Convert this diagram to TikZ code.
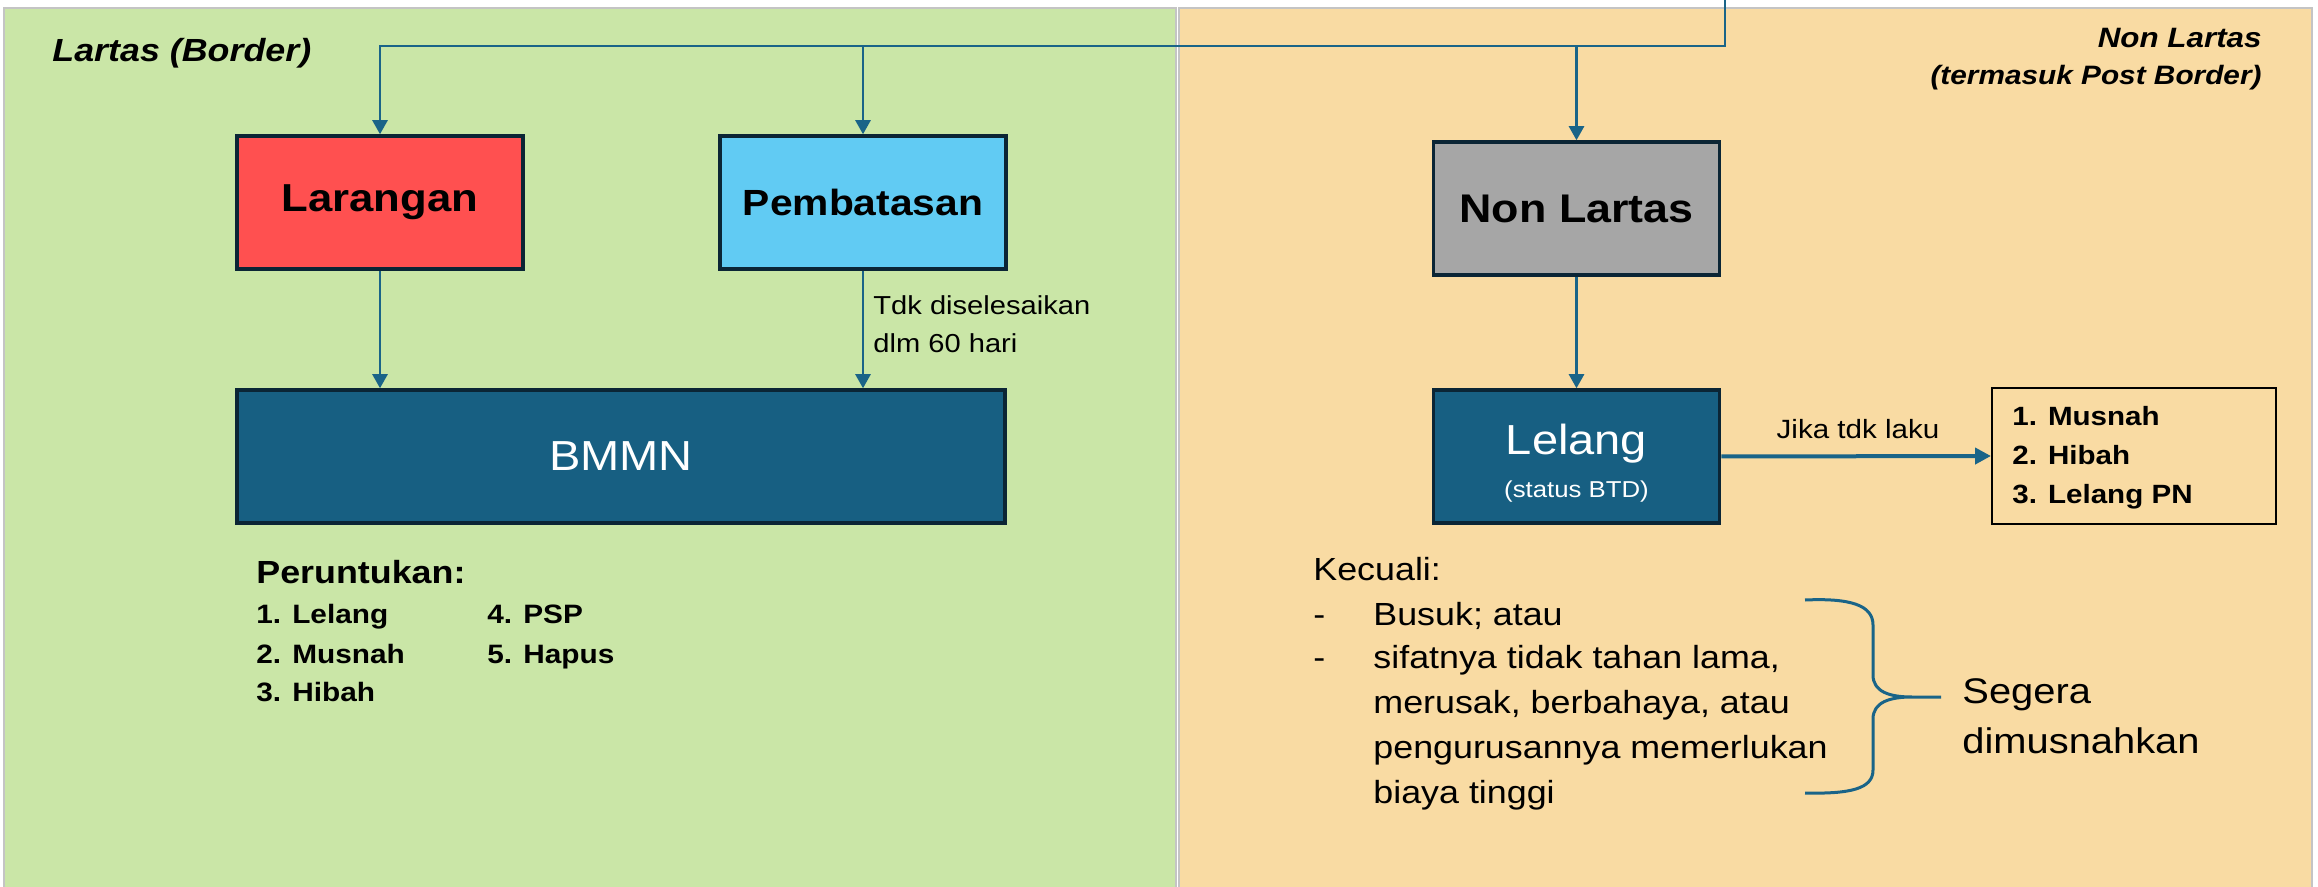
\documentclass[tikz,border=0pt]{standalone}
\usepackage{fontspec}
\setmainfont[FakeStretch=1.12]{Liberation Sans}
\usetikzlibrary{arrows.meta}
\definecolor{panelgreen}{HTML}{CAE6A7}
\definecolor{panelorange}{HTML}{F9DBA3}
\definecolor{panelline}{HTML}{C4C4C4}
\definecolor{redbox}{HTML}{FF5050}
\definecolor{bluebox}{HTML}{61CBF3}
\definecolor{greybox}{HTML}{A6A6A6}
\definecolor{tealbox}{HTML}{175F82}
\definecolor{boxborder}{HTML}{0B2535}
\definecolor{linkcol}{HTML}{1A6488}
\newcommand\fsz[1]{\fontsize{#1}{#1}\selectfont}
\begin{document}
\begin{tikzpicture}[x=0.5pt,y=-0.5pt,
  box/.style={draw=boxborder, line width=1.75pt, inner sep=0pt, minimum width=143pt, minimum height=66.5pt},
  arr/.style={draw=linkcol, line width=1.25pt, -{Triangle[width=7.5pt,length=7pt]}},
  arrthick/.style={draw=linkcol, line width=2pt, -{Triangle[width=8pt,length=8pt]}},
  txt/.style={inner sep=0pt, anchor=base west},
]
\useasboundingbox (0,0) rectangle (2318,887);
\fill[white] (0,0) rectangle (2318,887);
% panels
\filldraw[fill=panelgreen, draw=panelline, line width=0.9pt] (4,8) rectangle (1176,892);
\filldraw[fill=panelorange, draw=panelline, line width=0.9pt] (1179,8) rectangle (2312,892);

% panel titles
\node[txt] (lartas) at (52,62) {\fsz{16}\bfseries\itshape Lartas (Border)};
\node[txt, anchor=base east] (nonl1) at (2262,48) {\fsz{14}\bfseries\itshape Non Lartas};
\node[txt, anchor=base east] (nonl2) at (2262,85) {\fsz{13.3}\bfseries\itshape (termasuk Post Border)};

% boxes
\node[box, fill=redbox] (larangan) at (380,202.5) {\fsz{19.5}\bfseries Larangan};
\node[box, fill=bluebox] (pembatasan) at (863,202.5) {\fsz{18.2}\bfseries Pembatasan};
\node[box, fill=greybox] (nonlartas) at (1576.5,208.5) {\fsz{20}\bfseries Non Lartas};
\node[box, fill=tealbox, minimum width=384pt, text=white] (bmmn) at (621,456.5) {\fsz{21}BMMN};
\node[box, fill=tealbox] (lelang) at (1576.5,456.5) {};
\node[txt, anchor=base, text=white] (lelangtxt) at (1576.5,455) {\fsz{21}Lelang};
\node[txt, anchor=base, text=white] (lelangsub) at (1576.5,497) {\fsz{11.5}(status BTD)};
\node[draw=black, line width=1pt, minimum width=142pt, minimum height=68pt, inner sep=0pt] (list) at (2134,456) {};
\node[txt] (l1) at (2012,426) {\fsz{13.2}\bfseries 1. Musnah};
\node[txt] (l2) at (2012,465) {\fsz{13.2}\bfseries 2. Hibah};
\node[txt] (l3) at (2012,503) {\fsz{13.2}\bfseries 3. Lelang PN};

% top connector
\coordinate (src) at (1725,0);
\coordinate (bus) at (1725,46);
\draw[arr] (src) -- (bus) -| (larangan.north);
\draw[arr] (bus) -| (pembatasan.north);
\draw[arr] (bus) -| (nonlartas.north);

% down arrows
\draw[arr] (larangan.south) -- (larangan.south |- bmmn.north);
\draw[arr] (pembatasan.south) -- (pembatasan.south |- bmmn.north);
\draw[arr] (nonlartas.south) -- (lelang.north);
\draw[arrthick] (lelang.east) -- (list.west);

% labels
\node[txt] (tdk1) at (873,315) {\fsz{13}Tdk diselesaikan};
\node[txt] (tdk2) at (873,353) {\fsz{13}dlm 60 hari};
\node[txt, anchor=base] (jika) at (1858,438) {\fsz{13.2}Jika tdk laku};

% Peruntukan
\node[txt] (per) at (256,583) {\fsz{16}\bfseries Peruntukan:};
\node[txt] (p1) at (256,623) {\fsz{13.3}\bfseries 1. Lelang};
\node[txt] (p2) at (256,663) {\fsz{13.3}\bfseries 2. Musnah};
\node[txt] (p3) at (256,701) {\fsz{13.3}\bfseries 3. Hibah};
\node[txt] (p4) at (487,623) {\fsz{13.3}\bfseries 4. PSP};
\node[txt] (p5) at (487,663) {\fsz{13.3}\bfseries 5. Hapus};

% Kecuali
\node[txt] (kec) at (1313,580) {\fsz{16}Kecuali:};
\node[txt] (d1) at (1313,625) {\fsz{16}-};
\node[txt] (k1) at (1373,625) {\fsz{16}Busuk; atau};
\node[txt] (d2) at (1313,668) {\fsz{16}-};
\node[txt] (k2) at (1373,668) {\fsz{16}sifatnya tidak tahan lama,};
\node[txt] (k3) at (1373,713) {\fsz{16}merusak, berbahaya, atau};
\node[txt] (k4) at (1373,758) {\fsz{16}pengurusannya memerlukan};
\node[txt] (k5) at (1373,803) {\fsz{16}biaya tinggi};

% brace
\draw[draw=linkcol, line width=1.5pt]
  (1805,600) .. controls (1850,598) and (1873,605) .. (1873,625)
  -- (1873,675) .. controls (1873,692) and (1890,697) .. (1912,697) -- (1941,697)
  (1912,697) .. controls (1890,697) and (1873,702) .. (1873,719)
  -- (1873,770) .. controls (1873,789) and (1850,794) .. (1805,793);

\node[txt] (seg1) at (1962,703) {\fsz{17.8}Segera};
\node[txt] (seg2) at (1962,753) {\fsz{17.8}dimusnahkan};
\end{tikzpicture}
\end{document}
